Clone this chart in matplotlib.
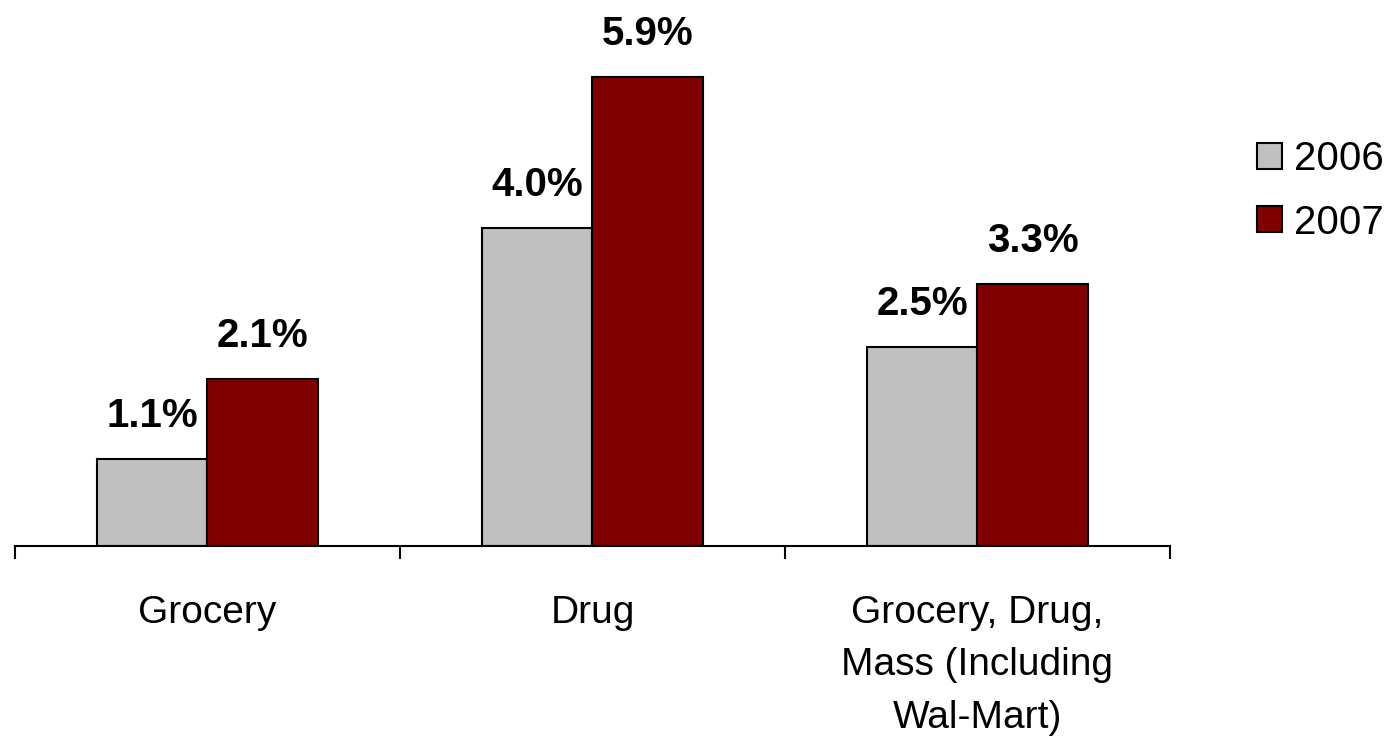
import numpy as np
import matplotlib.pyplot as plt

plt.rcParams['font.family'] = ['Liberation Sans', 'DejaVu Sans']

categorias = ["Grocery", "Drug", "Grocery, Drug,\nMass (Including\nWal-Mart)"]
anios = ["2006", "2007"]
valores_2006 = [1.1, 4.0, 2.5]
valores_2007 = [2.1, 5.9, 3.3]
colores = ["#C0C0C0", "#800000"]

fig = plt.figure(figsize=(14, 7.39), dpi=100)
ax = fig.add_axes([15/1400, (739-546)/739, 1155/1400, 546/739])

x = np.arange(len(categorias))
ancho = 0.286

barras = []
for k, (vals, col, nombre) in enumerate(zip([valores_2006, valores_2007], colores, anios)):
    pos = x + (k - 0.5) * ancho
    b = ax.bar(pos, vals, ancho, color=col, edgecolor="black", linewidth=1.5, label=nombre)
    barras.append(b)
    # etiqueta con el porcentaje encima de cada barra
    for xi, v in zip(pos, vals):
        ax.annotate(f"{v:.1f}%", (xi, v), xytext=(0, 23), textcoords="offset points",
                    ha="center", va="baseline", fontsize=29, fontweight="bold")

ax.set_xlim(-0.5, 2.5)
ax.set_ylim(0, 6.87)
for s in ["top", "right", "left"]:
    ax.spines[s].set_visible(False)
ax.spines["bottom"].set_linewidth(1.5)
ax.set_yticks([])

ax.set_xticks(x)
ax.set_xticklabels(categorias, fontsize=28, linespacing=1.6)
ax.tick_params(axis="x", which="major", length=0, pad=35)
ax.set_xticks([-0.5, 0.5, 1.5, 2.5], minor=True)
ax.tick_params(axis="x", which="minor", length=9, width=1.5, direction="out")

fig.legend(handles=barras, labels=anios, loc="upper left", bbox_to_anchor=(1237/1400, 1 - 120/739),
           frameon=False, fontsize=29, handlelength=0.62, handleheight=0.62,
           handletextpad=0.3, labelspacing=0.63, borderpad=0)

fig.savefig("out.png", dpi=100)
